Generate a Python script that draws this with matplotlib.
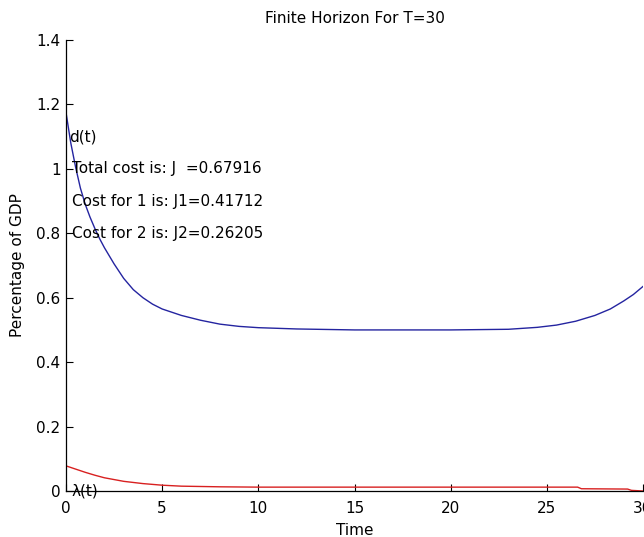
import matplotlib
matplotlib.use("Agg")
import matplotlib.pyplot as plt

# d(t)
t_d = [0, 0.25, 0.5, 0.75, 1.0, 1.25, 1.5, 1.75, 2.0, 2.5, 3.0, 3.5, 4.0, 4.5, 5.0, 6.0,
       7.0, 8.0, 9.0, 10, 12, 15, 20, 23, 24.5, 25.5, 26.5, 27.5, 28.3, 29.0, 29.5, 30]
d_vals = [1.175, 1.08, 1.005, 0.94, 0.89, 0.85, 0.815, 0.783, 0.755, 0.705, 0.66, 0.625,
          0.6, 0.58, 0.565, 0.545, 0.53, 0.518, 0.511, 0.507, 0.503, 0.5, 0.5, 0.502,
          0.508, 0.515, 0.527, 0.545, 0.565, 0.59, 0.61, 0.635]

# lambda(t)
t_l = [0, 0.5, 1.0, 1.5, 2.0, 3.0, 4.0, 5.0, 6.0, 8.0, 10, 15, 20, 26.6, 26.8, 29.2, 29.4, 30]
l_vals = [0.078, 0.068, 0.058, 0.049, 0.041, 0.03, 0.023, 0.018, 0.015, 0.013, 0.012,
          0.012, 0.012, 0.012, 0.007, 0.006, 0.002, 0.0]

cost_lines = ["Total cost is: J  =0.67916", "Cost for 1 is: J1=0.41712", "Cost for 2 is: J2=0.26205"]
x_ticks = [0, 5, 10, 15, 20, 25, 30]
y_ticks = [0, 0.2, 0.4, 0.6, 0.8, 1, 1.2, 1.4]
y_labels = ["0", "0.2", "0.4", "0.6", "0.8", "1", "1.2", "1.4"]

plt.rcParams.update({
    "font.family": "DejaVu Sans",
    "font.size": 11,
    "xtick.direction": "in",
    "ytick.direction": "in",
})

fig = plt.figure(figsize=(6.44, 5.37), dpi=100)
ax = fig.add_axes([66 / 644, 46 / 537, 577 / 644, 451 / 537])

ax.plot(t_d, d_vals, color="#2424a0", linewidth=1.0)
ax.plot(t_l, l_vals, color="#d82020", linewidth=1.0)

ax.set_xlim(0, 30)
ax.set_ylim(0, 1.4)
ax.set_xticks(x_ticks)
ax.set_xticklabels([str(v) for v in x_ticks])
ax.set_yticks(y_ticks)
ax.set_yticklabels(y_labels)
ax.tick_params(length=5, width=0.8, labelsize=11)
ax.tick_params(axis="x", pad=7)
ax.tick_params(axis="y", pad=4)

for side in ["top", "right"]:
    ax.spines[side].set_visible(False)
for side in ["left", "bottom"]:
    ax.spines[side].set_linewidth(0.9)

ax.set_title("Finite Horizon For T=30", fontsize=11, pad=12)
ax.set_xlabel("Time", fontsize=11, labelpad=5)
ax.set_ylabel("Percentage of GDP", fontsize=11, labelpad=8)

ax.text(0.15, 1.1, "d(t)", va="center", ha="left", fontsize=11)
for i, s in enumerate(cost_lines):
    ax.text(0.3, 1.0 - 0.1 * i, s, va="center", ha="left", fontsize=11)
ax.text(0.3, 0.0, "λ(t)", va="center", ha="left", fontsize=11)

fig.savefig("out.png", dpi=100)
